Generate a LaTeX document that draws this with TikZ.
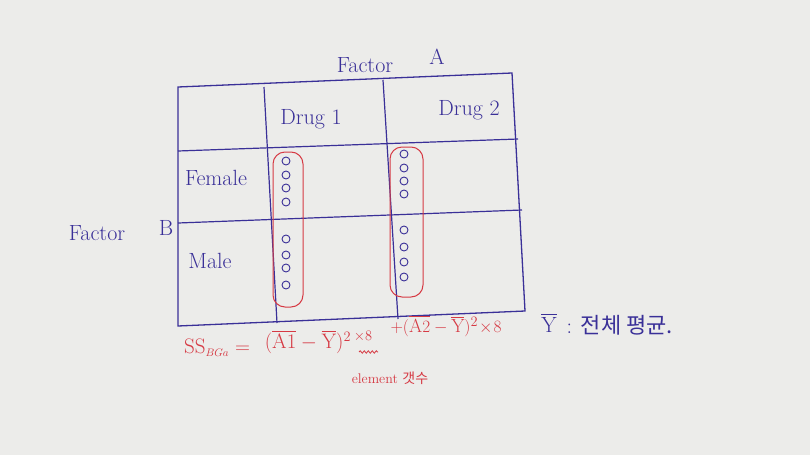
\documentclass[tikz,border=0pt]{standalone}
\usepackage{fontspec}
\usepackage{amsmath}
\newfontfamily\krfont{Noto Sans CJK KR}
\usepackage{tikz}
\usetikzlibrary{decorations.pathmorphing}

\definecolor{paper}{RGB}{236,236,234}
\definecolor{ink}{RGB}{58,48,152}
\definecolor{redink}{RGB}{214,58,68}

\begin{document}
\begin{tikzpicture}[x=1pt,y=-1pt,
    blue label/.style={text=ink,font=\fontsize{22}{24}\selectfont},
    red label/.style={text=redink,font=\fontsize{21}{23}\selectfont}]
    \fill[paper] (0,0) rectangle (810,455);
    \useasboundingbox (0,0) rectangle (810,455);

    % table, slightly skewed as on the page
    \coordinate (tl) at (178,87);
    \coordinate (tr) at (512,73);
    \coordinate (br) at (525,311);
    \coordinate (bl) at (178,326);
    \draw[ink,line width=1.3pt] (tl) -- (tr) -- (br) -- (bl) -- cycle;
    \draw[ink,line width=1.2pt] (178,151) -- (518,139);
    \draw[ink,line width=1.2pt] (178,223) -- (522,210);
    \draw[ink,line width=1.2pt] (264,87) -- (277,323);
    \draw[ink,line width=1.2pt] (383,80) -- (398,319);

    \node[blue label] (factorA) at (365,65) {Factor};
    \node[blue label] (letterA) at (437,57) {A};
    \node[blue label] (drugone) at (311,119) {Drug 1};
    \node[blue label] (drugtwo) at (469,110) {Drug 2};
    \node[blue label] (female) at (216,178) {Female};
    \node[blue label] (male) at (210,261) {Male};
    \node[blue label] (factorB) at (97,233) {Factor};
    \node[blue label] (letterB) at (166,228) {B};

    % groups of subjects
    \draw[redink,line width=1pt,rounded corners=12pt] (273,152) rectangle (303,307);
    \draw[redink,line width=1pt,rounded corners=12pt] (390,147) rectangle (423,297);
    \foreach \y in {161,175,188,202,239,255,268,285}
      \draw[ink,line width=0.9pt] (286,\y) circle[radius=4];
    \foreach \y in {154,168,181,194,230,247,262,277}
      \draw[ink,line width=0.9pt] (404,\y) circle[radius=4];

    % sum of squares
    \node[red label] (ssbga) at (217,348) {$\mathrm{SS}_{\scriptscriptstyle BGa}=$};
    \node[red label] (firstterm) at (308,342) {$(\overline{\mathrm{A}1}-\overline{\mathrm{Y}})^2$};
    \node[red label,font=\fontsize{15}{17}\selectfont] (firstcount) at (363,336) {$\times 8$};
    \node[red label,font=\fontsize{19}{21}\selectfont] (secondterm) at (446,326) {$+(\overline{\mathrm{A}2}-\overline{\mathrm{Y}})^2\!\times\! 8$};
    \draw[redink,line width=0.8pt,decorate,decoration={snake,amplitude=1.2pt,segment length=4pt}]
      (359,352) -- (378,352);
    \node[text=redink,font=\fontsize{14}{16}\selectfont] (element) at (390,378) {element {\krfont 갯수}};

    \node[blue label] (ybar) at (549,323) {$\overline{\mathrm{Y}}$};
    \node[blue label,anchor=west] (ybarnote) at (563,325) {: {\krfont 전체 평균.}};
  \end{tikzpicture}
\end{document}
